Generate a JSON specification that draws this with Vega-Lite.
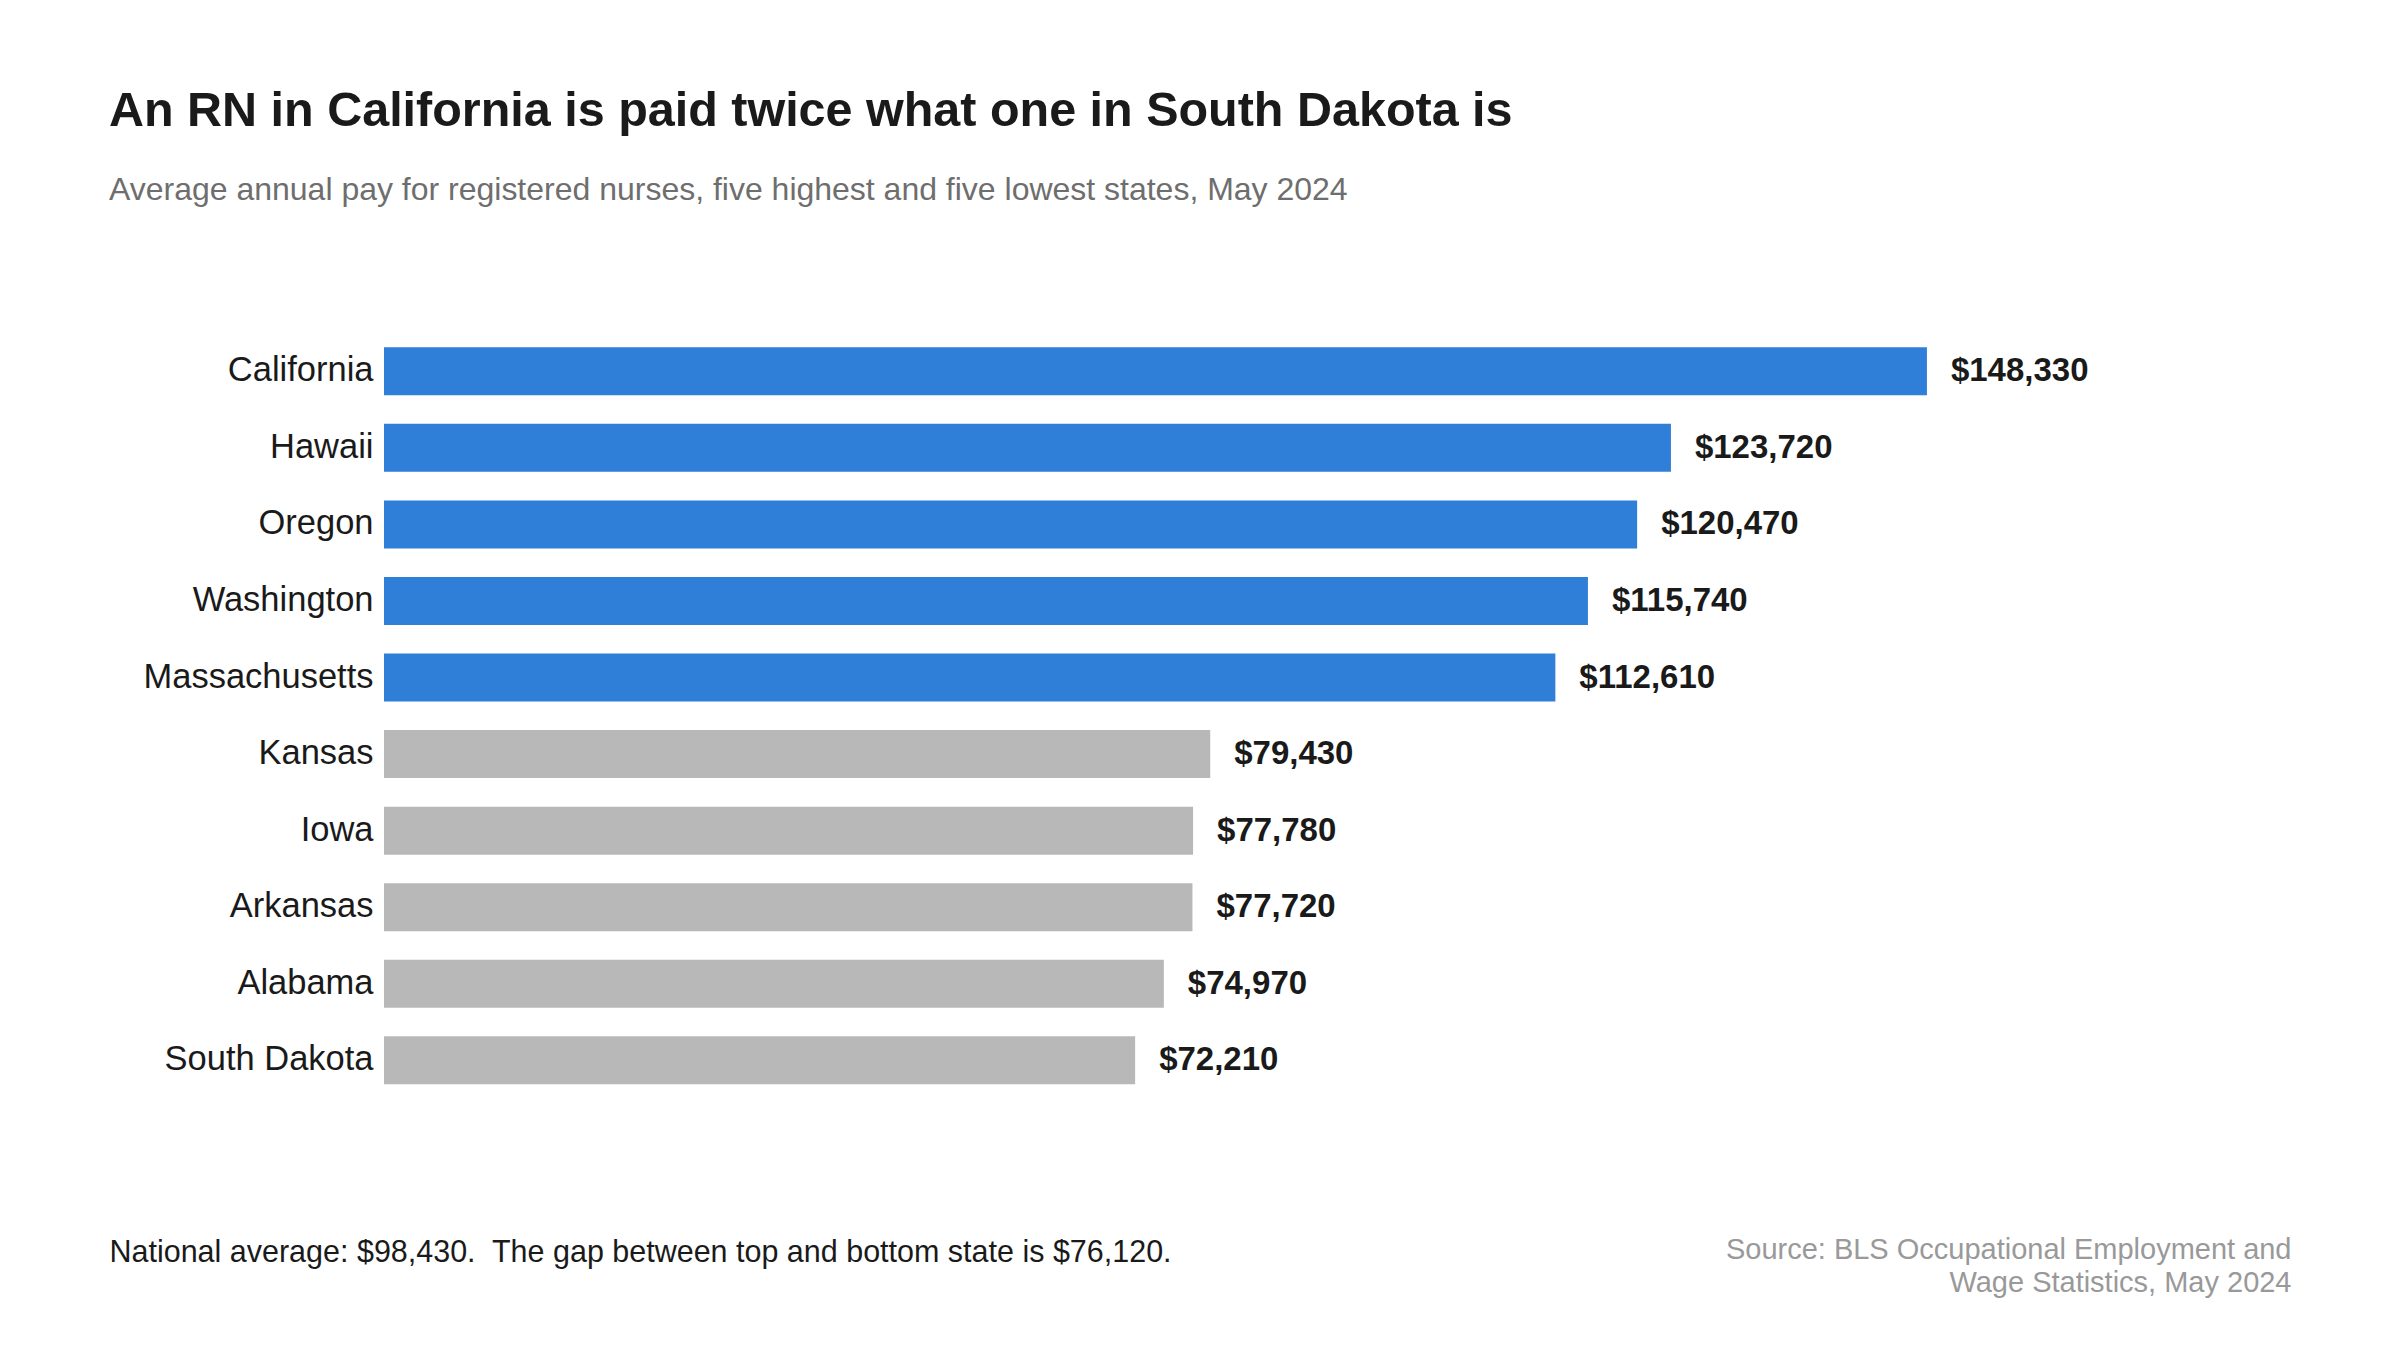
{
  "$schema": "https://vega.github.io/schema/vega-lite/v6.json",
  "width": 1907,
  "height": 765.6,
  "autosize": {"type": "none"},
  "padding": {"left": 384, "top": 333, "right": 109, "bottom": 251},
  "background": "white",
  "title": {
    "text": "An RN in California is paid twice what one in South Dakota is",
    "subtitle": "Average annual pay for registered nurses, five highest and five lowest states, May 2024",
    "anchor": "start",
    "frame": "group",
    "dx": -275,
    "offset": 126,
    "font": "Liberation Sans",
    "fontSize": 48.5,
    "fontWeight": "bold",
    "color": "#1a1a1a",
    "subtitleFont": "Liberation Sans",
    "subtitleFontSize": 32,
    "subtitleColor": "#6e6e6e",
    "subtitlePadding": 38
  },
  "data": {
    "values": [
      {"state": "California", "pay": 148330, "group": "top"},
      {"state": "Hawaii", "pay": 123720, "group": "top"},
      {"state": "Oregon", "pay": 120470, "group": "top"},
      {"state": "Washington", "pay": 115740, "group": "top"},
      {"state": "Massachusetts", "pay": 112610, "group": "top"},
      {"state": "Kansas", "pay": 79430, "group": "bottom"},
      {"state": "Iowa", "pay": 77780, "group": "bottom"},
      {"state": "Arkansas", "pay": 77720, "group": "bottom"},
      {"state": "Alabama", "pay": 74970, "group": "bottom"},
      {"state": "South Dakota", "pay": 72210, "group": "bottom"}
    ]
  },
  "encoding": {
    "y": {
      "field": "state",
      "type": "nominal",
      "sort": "-x",
      "scale": {"paddingInner": 0.373, "paddingOuter": 0.1865},
      "axis": {
        "title": null,
        "domain": false,
        "ticks": false,
        "tickSize": 0,
        "labelPadding": 11,
        "labelFont": "Liberation Sans",
        "labelFontSize": 34.5,
        "labelColor": "#1a1a1a",
        "labelLimit": 400
      }
    }
  },
  "layer": [
    {
      "mark": {"type": "bar"},
      "encoding": {
        "x": {
          "field": "pay",
          "type": "quantitative",
          "scale": {"domain": [0, 183330], "nice": false},
          "axis": {
            "orient": "bottom",
            "domain": false,
            "ticks": false,
            "labels": false,
            "grid": false,
            "title": "National average: $98,430.\u00a0 The gap between top and bottom state is $76,120.",
            "titleFont": "Liberation Sans",
            "titleFontSize": 30.5,
            "titleFontWeight": "normal",
            "titleColor": "#1a1a1a",
            "titleAnchor": "start",
            "titleAlign": "left",
            "titleBaseline": "alphabetic",
            "titleX": -275,
            "titleY": 163,
            "titleLimit": 2000
          }
        },
        "color": {
          "field": "group",
          "type": "nominal",
          "scale": {"domain": ["top", "bottom"], "range": ["#2f7ed8", "#b8b8b8"]},
          "legend": null
        }
      }
    },
    {
      "mark": {
        "type": "text",
        "align": "left",
        "baseline": "middle",
        "dx": 24,
        "font": "Liberation Sans",
        "fontSize": 33,
        "fontWeight": "bold",
        "color": "#1a1a1a"
      },
      "encoding": {
        "x": {
          "field": "pay",
          "type": "quantitative",
          "axis": {
            "orient": "bottom",
            "domain": false,
            "ticks": false,
            "labels": false,
            "grid": false,
            "title": ["Source: BLS Occupational Employment and", "Wage Statistics, May 2024"],
            "titleFont": "Liberation Sans",
            "titleFontSize": 29,
            "titleFontWeight": "normal",
            "titleColor": "#999999",
            "titleAnchor": "end",
            "titleAlign": "right",
            "titleBaseline": "alphabetic",
            "titleLineHeight": 33,
            "titleX": 1907,
            "titleY": 160,
            "titleLimit": 2000
          }
        },
        "text": {"field": "pay", "type": "quantitative", "format": "$,.0f"}
      }
    }
  ],
  "resolve": {"axis": {"x": "independent"}},
  "config": {"view": {"stroke": null}}
}
